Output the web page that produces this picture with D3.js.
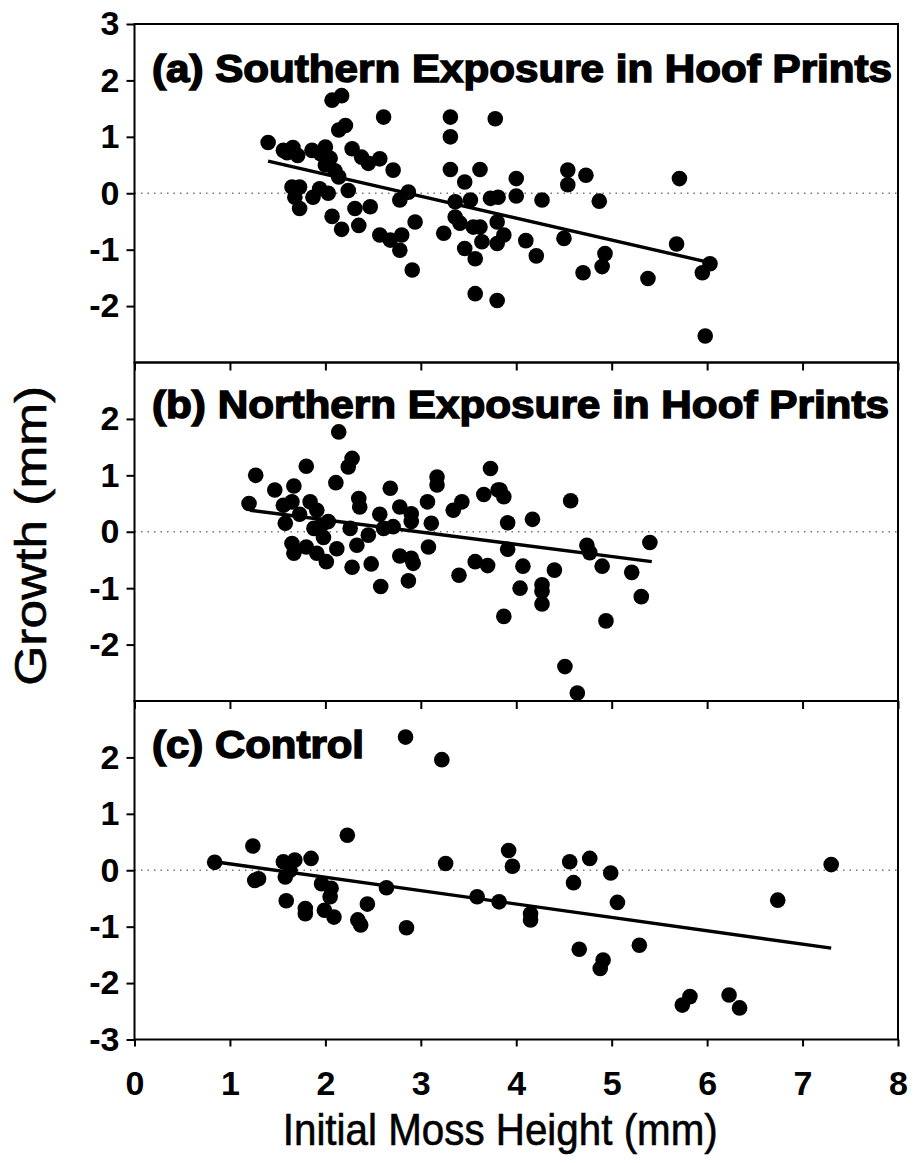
<!DOCTYPE html>
<html>
<head>
<meta charset="utf-8">
<script src="https://cdn.jsdelivr.net/npm/d3@7"></script>
<style>
  body { margin: 0; background: #fff; }
  text { fill: #000; }
</style>
</head>
<body>
<svg width="914" height="1163"></svg>
<script>
// panel titles
const titles = [
  "(a) Southern Exposure in Hoof Prints",
  "(b) Northern Exposure in Hoof Prints",
  "(c) Control"
];

const xTicks = [0, 1, 2, 3, 4, 5, 6, 7, 8];
const yTicksA = [3, 2, 1, 0, -1, -2];
const yTicksB = [2, 1, 0, -1, -2];
const yTicksC = [2, 1, 0, -1, -2, -3];

// [initial height, growth]
const southPts = [
  [1.40, 0.90], [1.56, 0.76], [1.66, 0.81], [1.71, 0.67], [1.60, 0.72],
  [1.86, 0.76], [2.00, 0.82], [2.05, 0.62], [1.95, 0.70], [2.00, 0.50],
  [2.10, 0.40], [2.07, 1.65], [2.17, 1.73], [2.14, 1.12], [2.21, 1.20],
  [2.61, 1.35], [2.28, 0.79], [2.38, 0.64], [2.45, 0.53], [2.57, 0.61],
  [2.71, 0.41], [3.31, 1.35], [3.31, 1.00], [3.78, 1.32], [3.31, 0.42],
  [3.62, 0.42], [3.46, 0.20], [1.65, 0.11], [1.73, 0.11], [1.68, -0.07],
  [1.73, -0.27], [1.94, 0.08], [2.03, 0.00], [1.87, -0.07], [2.24, 0.05],
  [2.14, 0.29], [2.07, -0.41], [2.17, -0.64], [2.31, -0.27], [2.35, -0.57],
  [2.47, -0.24], [2.57, -0.74], [2.68, -0.83], [2.80, -0.74], [2.78, -1.01],
  [2.78, -0.12], [2.87, 0.02], [2.94, -0.51], [2.91, -1.36], [3.24, -0.71],
  [3.36, -0.15], [3.52, -0.12], [3.73, -0.09], [3.36, -0.42], [3.41, -0.53],
  [3.55, -0.60], [3.62, -0.60], [3.46, -0.98], [3.57, -1.16], [3.64, -0.86],
  [3.57, -1.78], [3.80, -1.90], [4.00, 0.26], [4.54, 0.41], [4.54, 0.15],
  [4.73, 0.32], [5.71, 0.26], [3.81, -0.07], [4.00, -0.05], [4.27, -0.12],
  [4.87, -0.14], [3.80, -0.51], [3.87, -0.74], [3.80, -0.89], [4.10, -0.84],
  [4.21, -1.11], [4.50, -0.80], [4.70, -1.41], [4.93, -1.07], [4.90, -1.30],
  [5.38, -1.51], [5.68, -0.90], [6.03, -1.25], [5.95, -1.41], [5.98, -2.53]
];

const northPts = [
  [2.14, 1.77], [2.24, 1.15], [2.28, 1.30], [1.27, 1.00], [1.80, 1.16],
  [1.47, 0.74], [1.67, 0.81], [2.11, 0.87], [2.68, 0.77], [3.17, 0.97],
  [3.17, 0.83], [3.73, 1.12], [3.66, 0.66], [3.81, 0.74], [1.20, 0.50],
  [1.56, 0.47], [1.65, 0.53], [1.84, 0.53], [1.91, 0.38], [1.58, 0.15],
  [1.73, 0.31], [1.88, 0.06], [1.96, 0.12], [2.03, 0.18], [2.35, 0.59],
  [2.36, 0.44], [2.57, 0.31], [2.78, 0.44], [2.90, 0.32], [2.90, 0.18],
  [3.07, 0.53], [3.11, 0.15], [3.34, 0.38], [3.43, 0.53], [2.26, 0.06],
  [2.33, -0.24], [2.45, -0.06], [2.61, 0.06], [2.71, 0.09], [1.65, -0.21],
  [1.67, -0.38], [1.80, -0.27], [1.91, -0.38], [2.01, -0.53], [2.12, -0.30],
  [1.98, -0.10], [2.28, -0.63], [2.48, -0.57], [2.58, -0.97], [2.78, -0.43],
  [2.90, -0.47], [2.92, -0.56], [2.87, -0.87], [3.08, -0.27], [3.40, -0.77],
  [3.57, -0.53], [3.70, -0.60], [3.83, 0.74], [3.87, 0.62], [4.57, 0.55],
  [3.91, 0.16], [4.17, 0.22], [3.91, -0.31], [4.07, -0.61], [4.40, -0.68],
  [4.04, -1.00], [4.27, -0.94], [4.27, -1.06], [4.27, -1.28], [3.87, -1.50],
  [4.74, -0.24], [4.77, -0.37], [4.90, -0.61], [5.21, -0.72], [5.40, -0.19],
  [5.31, -1.15], [4.94, -1.58], [4.51, -2.39], [4.64, -2.86]
];

const controlPts = [
  [0.84, 0.14], [1.24, 0.43], [1.26, -0.18], [1.30, -0.15], [1.56, 0.15],
  [1.68, 0.18], [1.58, -0.12], [1.63, 0.00], [1.85, 0.21], [1.59, -0.54],
  [1.79, -0.68], [1.79, -0.77], [1.96, -0.24], [2.06, -0.32], [2.05, -0.47],
  [1.99, -0.71], [2.09, -0.83], [2.23, 0.62], [2.44, -0.60], [2.34, -0.88],
  [2.37, -0.97], [2.64, -0.31], [2.85, -1.02], [2.84, 2.36], [3.22, 1.96],
  [3.26, 0.12], [3.59, -0.47], [3.82, -0.56], [3.92, 0.35], [3.96, 0.07],
  [4.15, -0.77], [4.15, -0.88], [4.56, 0.15], [4.77, 0.21], [4.60, -0.22],
  [4.99, -0.05], [5.06, -0.57], [4.66, -1.40], [4.91, -1.59], [4.88, -1.74],
  [5.29, -1.33], [5.82, -2.24], [5.74, -2.39], [6.23, -2.21], [6.34, -2.44],
  [6.74, -0.53], [7.30, 0.10]
];

// regression lines: [[x0, y0], [x1, y1]]
const southFit = [[1.40, 0.57], [6.03, -1.23]];
const northFit = [[1.21, 0.38], [5.42, -0.53]];
const controlFit = [[0.84, 0.15], [7.30, -1.38]];

const panels = [
  { title: titles[0], pts: southPts, fit: southFit, ticks: yTicksA, titleLen: 740, titleY: 82 },
  { title: titles[1], pts: northPts, fit: northFit, ticks: yTicksB, titleLen: 737, titleY: 418 },
  { title: titles[2], pts: controlPts, fit: controlFit, ticks: yTicksC, titleLen: 212, titleY: 758 }
];

const left = 134.5, right = 898, top0 = 24, ph = 338.5;
const svg = d3.select("svg");
const tickFont = "'Liberation Sans Narrow', 'Liberation Sans', Arial, sans-serif";

const x = d3.scaleLinear().domain([0, 8]).range([left, right]);

panels.forEach((p, i) => {
  const top = top0 + i * ph;
  const y = d3.scaleLinear().domain([-3, 3]).range([top + ph, top]);
  const g = svg.append("g");

  // dotted zero line
  g.append("line")
    .attr("x1", left).attr("x2", right)
    .attr("y1", y(0)).attr("y2", y(0))
    .attr("stroke", "#777")
    .attr("stroke-width", 1.3)
    .attr("stroke-dasharray", "1.5,5");

  // fit line
  g.append("path")
    .datum(p.fit)
    .attr("fill", "none")
    .attr("stroke", "#000")
    .attr("stroke-width", 3.4)
    .attr("d", d3.line().x(d => x(d[0])).y(d => y(d[1])));

  // points
  g.selectAll("circle")
    .data(p.pts)
    .enter()
    .append("circle")
    .attr("cx", d => x(d[0]))
    .attr("cy", d => y(d[1]))
    .attr("r", 7.8)
    .attr("fill", "#000");

  // frame
  g.append("rect")
    .attr("x", left).attr("y", top)
    .attr("width", right - left).attr("height", ph)
    .attr("fill", "none")
    .attr("stroke", "#000")
    .attr("stroke-width", 2);

  // y axis
  const ya = g.append("g")
    .attr("transform", `translate(${left},0)`)
    .call(d3.axisLeft(y).tickValues(p.ticks).tickSize(8).tickPadding(7).tickFormat(d => String(d)));
  ya.select(".domain").remove();
  ya.selectAll("line").attr("stroke-width", 2);
  ya.selectAll("text")
    .style("font-family", tickFont)
    .style("font-weight", "bold")
    .style("font-size", "34px");

  // inner ticks on top edge of lower panels
  if (i > 0) {
    const ta = g.append("g")
      .attr("transform", `translate(0,${top})`)
      .call(d3.axisTop(x).tickValues(xTicks).tickSize(-8).tickFormat(""));
    ta.select(".domain").remove();
    ta.selectAll("line").attr("stroke-width", 2);
  }

  // title
  g.append("text")
    .attr("x", 152)
    .attr("y", p.titleY)
    .attr("textLength", p.titleLen)
    .attr("lengthAdjust", "spacingAndGlyphs")
    .style("font-family", "'Liberation Sans', Arial, sans-serif")
    .style("font-weight", "bold")
    .style("font-size", "39px")
    .style("stroke", "#000")
    .style("stroke-width", 1.5)
    .text(p.title);
});

// bottom x axis
const bottom = top0 + 3 * ph;
const xa = svg.append("g")
  .attr("transform", `translate(0,${bottom})`)
  .call(d3.axisBottom(x).tickValues(xTicks).tickSize(7).tickPadding(24).tickFormat(d => String(d)));
xa.select(".domain").remove();
xa.selectAll("line").attr("stroke-width", 2);
xa.selectAll("text")
  .style("font-family", tickFont)
  .style("font-weight", "bold")
  .style("font-size", "34px");

// axis titles
svg.append("text")
  .attr("x", (left + right) / 2 - 16)
  .attr("y", 1145)
  .attr("text-anchor", "middle")
  .attr("textLength", 435)
  .attr("lengthAdjust", "spacingAndGlyphs")
  .style("font-family", tickFont)
  .style("font-size", "44px")
  .style("stroke", "#000")
  .style("stroke-width", 0.6)
  .text("Initial Moss Height (mm)");

svg.append("text")
  .attr("transform", `translate(46,${top0 + 1.5 * ph + 4}) rotate(-90)`)
  .attr("text-anchor", "middle")
  .attr("textLength", 300)
  .attr("lengthAdjust", "spacingAndGlyphs")
  .style("font-family", tickFont)
  .style("font-size", "44px")
  .style("stroke", "#000")
  .style("stroke-width", 0.6)
  .text("Growth (mm)");
</script>
</body>
</html>
